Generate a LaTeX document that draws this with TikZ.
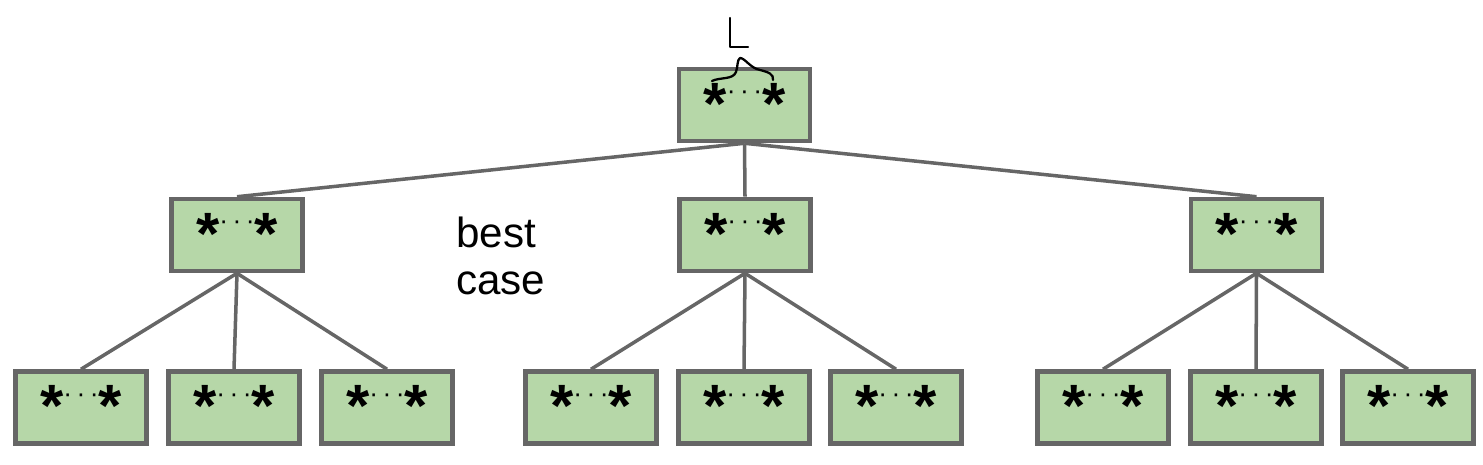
\documentclass[tikz,border=0pt]{standalone}
\usepackage{fontspec}
\setmainfont{Liberation Sans}
\definecolor{sage}{HTML}{B6D7A8}
\definecolor{slate}{HTML}{666666}
\usetikzlibrary{positioning}
\newcommand{\keyrun}{\textbf{*}\raisebox{14pt}{\fontsize{15}{15}\selectfont·\,·\,·}\textbf{*}}
\tikzset{
  keybox/.style={draw=slate, line width=2.6pt, fill=sage, minimum width=2.62cm,
    minimum height=1.44cm, inner sep=0pt, text height=0.9cm, text depth=0.12cm,
    font=\fontsize{34}{34}\selectfont},
  branch/.style={slate, line width=2pt},
  ink/.style={black, line width=1.3pt, line cap=round, line join=round}
}

\begin{document}
\begin{tikzpicture}[x=0.02cm, y=-0.02cm]
  \useasboundingbox (0,0) rectangle (1483,465);

  % root
  \node[keybox] (root) at (744.5,105) {\keyrun};

  % second level
  \node[keybox] (left) at (237,235) {\keyrun};
  \node[keybox] (mid) at (745,235) {\keyrun};
  \node[keybox] (right) at (1256.5,235) {\keyrun};

  % leaves
  \node[keybox] (l1) at (81,407.5) {\keyrun};
  \node[keybox] (l2) at (234,407.5) {\keyrun};
  \node[keybox] (l3) at (387,407.5) {\keyrun};
  \node[keybox] (m1) at (591,407.5) {\keyrun};
  \node[keybox] (m2) at (744,407.5) {\keyrun};
  \node[keybox] (m3) at (896,407.5) {\keyrun};
  \node[keybox] (r1) at (1103,407.5) {\keyrun};
  \node[keybox] (r2) at (1256,407.5) {\keyrun};
  \node[keybox] (r3) at (1408,407.5) {\keyrun};

  \draw[branch] (root.south) -- (left.north);
  \draw[branch] (root.south) -- (mid.north);
  \draw[branch] (root.south) -- (right.north);
  \draw[branch] (left.south) -- (l1.north);
  \draw[branch] (left.south) -- (l2.north);
  \draw[branch] (left.south) -- (l3.north);
  \draw[branch] (mid.south) -- (m1.north);
  \draw[branch] (mid.south) -- (m2.north);
  \draw[branch] (mid.south) -- (m3.north);
  \draw[branch] (right.south) -- (r1.north);
  \draw[branch] (right.south) -- (r2.north);
  \draw[branch] (right.south) -- (r3.north);

  \node[anchor=west, align=left, font=\fontsize{24}{27}\selectfont] (note) at (450,256) {best\\case};

  % handwritten mark over the root keys
  \coordinate (peak) at (740,58);
  \draw[ink] (712,81) .. controls (720,77) and (733,80) .. (736,72) .. controls (738,66) and (737,60) .. (peak)
    .. controls (745,58) and (750,68) .. (760,70) .. controls (768,72) and (774,74) .. (773,80);
  \draw[ink] (730,18) -- (730,47) -- (748,47);
\end{tikzpicture}
\end{document}
